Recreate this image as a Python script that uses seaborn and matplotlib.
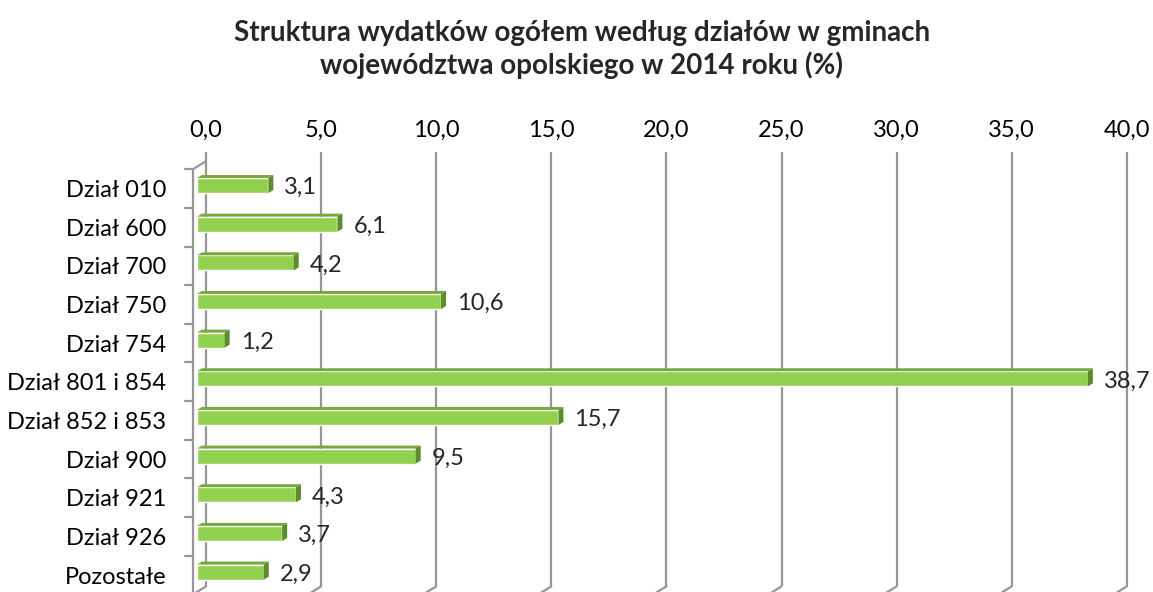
import matplotlib
matplotlib.use("Agg")
import matplotlib.pyplot as plt
import matplotlib.transforms as mtransforms
from matplotlib.patches import Polygon
import pandas as pd
import seaborn as sns

categories = ["Dział 010", "Dział 600", "Dział 700", "Dział 750", "Dział 754",
              "Dział 801 i 854", "Dział 852 i 853", "Dział 900", "Dział 921",
              "Dział 926", "Pozostałe"]
shares = [3.1, 6.1, 4.2, 10.6, 1.2, 38.7, 15.7, 9.5, 4.3, 3.7, 2.9]
x_ticks = [0, 5, 10, 15, 20, 25, 30, 35, 40]
x_tick_labels = ["0,0", "5,0", "10,0", "15,0", "20,0", "25,0", "30,0", "35,0", "40,0"]
title = ("Struktura wydatków ogółem według działów w gminach\n"
         "województwa opolskiego w 2014 roku (%)")

FRONT = "#92D050"
TOP = "#76A83A"
SIDE = "#5E8B2C"
GRID = "#969696"

sns.set_style("white")
plt.rcParams["font.family"] = ["Lato", "DejaVu Sans"]

W, H = 1153, 592
fig = plt.figure(figsize=(W / 100, H / 100), dpi=100)
ax_left, ax_top, ax_w, ax_h = 197, 166.2, 920.8, 425.2
ax = fig.add_axes([ax_left / W, 1 - (ax_top + ax_h) / H, ax_w / W, ax_h / H])

df = pd.DataFrame({"category": categories, "share": shares})
sns.barplot(data=df, x="share", y="category", orient="h", color=FRONT,
            width=0.39, saturation=1, ax=ax, zorder=3)
n = len(categories)
ax.set_xlim(x_ticks[0], x_ticks[-1])
ax.set_ylim(n - 0.5, -0.5)

# pixel -> data conversions (y axis inverted: positive = down)
sx = ax_w / (x_ticks[-1] - x_ticks[0])
sy = ax_h / n
bx, by = 9 / sx, 5 / sy      # back wall
fx, fy = -4 / sx, 3 / sy     # front wall
ddx, ddy = 5 / sx, 3 / sy    # bar depth

# 3d faces of the bars
for p in ax.patches:
    x0, y0, w, h = p.get_x(), p.get_y(), p.get_width(), p.get_height()
    ax.add_patch(Polygon([(x0, y0), (x0 + w, y0), (x0 + w + ddx, y0 - ddy), (x0 + ddx, y0 - ddy)],
                         closed=True, facecolor=TOP, edgecolor="none", zorder=3))
    ax.add_patch(Polygon([(x0 + w, y0), (x0 + w + ddx, y0 - ddy),
                          (x0 + w + ddx, y0 + h - ddy), (x0 + w, y0 + h)],
                         closed=True, facecolor=SIDE, edgecolor="none", zorder=3))

ytop, ybot = -0.5, n - 0.5
lw = 1.6
for t in x_ticks:
    ax.plot([t + bx, t + bx], [ytop - by - 9 / sy, ybot - by], color=GRID, lw=lw,
            clip_on=False, zorder=1, solid_capstyle="butt")
    ax.plot([t + bx, t + fx], [ybot - by, ybot + fy], color=GRID, lw=lw,
            clip_on=False, zorder=1)
# left wall
ax.plot([fx, fx], [ytop + fy, ybot + fy], color=GRID, lw=lw, clip_on=False, zorder=1)
ax.plot([fx, bx], [ytop + fy, ytop - by], color=GRID, lw=lw, clip_on=False, zorder=1)
for k in range(n + 1):
    b = ytop + k
    ax.plot([fx - 8 / sx, fx], [b + fy, b + fy], color=GRID, lw=lw, clip_on=False, zorder=1)

ax.spines[:].set_visible(False)
ax.set_xlabel("")
ax.set_ylabel("")
ax.xaxis.tick_top()
ax.set_xticks(x_ticks, labels=x_tick_labels)
ax.set_yticks(range(n), labels=categories)
ax.tick_params(axis="x", length=0, pad=15, labelsize=17, colors="black")
ax.tick_params(axis="y", length=0, pad=22.3, labelsize=17, colors="black")
back_shift = mtransforms.ScaledTranslation(9 / 100, 5 / 100, fig.dpi_scale_trans)
front_shift = mtransforms.ScaledTranslation(0, -3 / 100, fig.dpi_scale_trans)
for lbl in ax.get_xticklabels():
    lbl.set_transform(lbl.get_transform() + back_shift)
for lbl in ax.get_yticklabels():
    lbl.set_transform(lbl.get_transform() + front_shift)

for i, v in enumerate(shares):
    ax.annotate(f"{v:.1f}".replace(".", ","), (v, i), xytext=(11.5, -1.5),
                textcoords="offset points", va="center", ha="left", fontsize=17)

fig.text(582 / W, 1 - 49.5 / H, title, ha="center", va="center", fontsize=20,
         fontweight="bold", linespacing=1.28)

fig.savefig("out.png", dpi=100)
